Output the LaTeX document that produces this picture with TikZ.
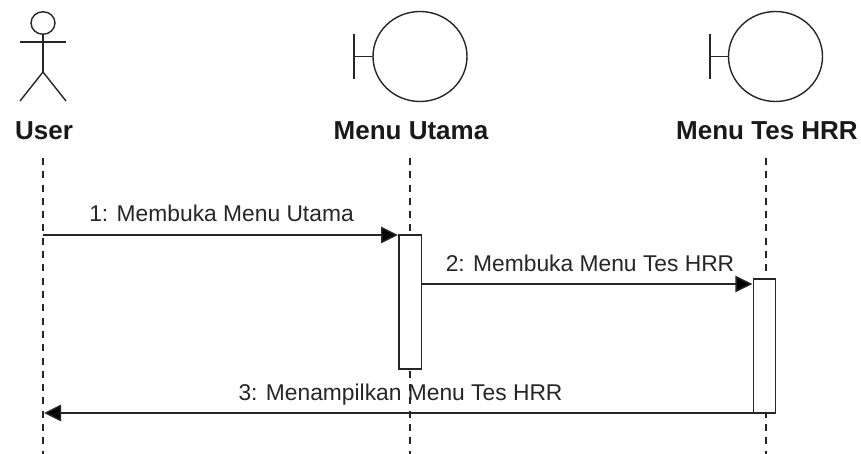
\documentclass[tikz,border=0pt]{standalone}
\usepackage{fontspec}
\setmainfont{Liberation Sans}
\usetikzlibrary{arrows.meta,shapes.geometric}
\tikzset{
  ln/.style={line width=1.4pt,draw=black!85},
  life/.style={line width=1.5pt,draw=black!85,dash pattern=on 7pt off 6.3pt},
  actbox/.style={draw=black!85,line width=1.5pt,fill=white,minimum width=22.4pt,inner sep=0pt,outer sep=0pt,anchor=north west},
  msg/.style={line width=1.5pt,draw=black!85,-{Triangle[length=17pt,width=16.5pt,fill=black]},shorten >=1pt},
  title/.style={font=\bfseries\fontsize{26}{30}\selectfont,inner sep=0pt,text=black!90,anchor=base},
  lbl/.style={font=\fontsize{22.8}{26}\selectfont,inner sep=0pt,text=black!85,anchor=base}
}
\begin{document}
\begin{tikzpicture}[x=1pt,y=-1pt]
\useasboundingbox (0,0) rectangle (861,454);
% actor
\node[ln,draw,ellipse,minimum width=24pt,minimum height=22.5pt,inner sep=0pt,outer sep=0pt] (head) at (43,23) {};
\coordinate (hip) at (43,72);
\coordinate (armL) at (20,42);
\coordinate (armR) at (66,42);
\coordinate (legL) at (20,101);
\coordinate (legR) at (66,101);
\draw[ln] (head.south) -- (hip);
\draw[ln] (armL) -- (armR);
\draw[ln] (legL) -- (hip) -- (legR);
\node[title] (tuser) at (44,140) {User};
\node[title] (tutama) at (411,140) {Menu Utama};
\node[title] (thrr) at (767,140) {Menu Tes HRR};
% boundaries
\node[ln,draw,ellipse,minimum width=94pt,minimum height=90pt,inner sep=0pt,outer sep=0pt] (c1) at (420,56.5) {};
\node[ln,draw,ellipse,minimum width=94pt,minimum height=90pt,inner sep=0pt,outer sep=0pt] (c2) at (775.5,56.5) {};
\coordinate (b1t) at (354,34); \coordinate (b1b) at (354,79); \coordinate (b1m) at (354,56.5);
\coordinate (b2t) at (710,34); \coordinate (b2b) at (710,79); \coordinate (b2m) at (710,56.5);
\draw[ln] (b1t) -- (b1b); \draw[ln] (b1m) -- (c1.west);
\draw[ln] (b2t) -- (b2b); \draw[ln] (b2m) -- (c2.west);
% lifelines
\coordinate (l0t) at (43,158); \coordinate (l0b) at (43,454);
\coordinate (l1t) at (410,158); \coordinate (l1b) at (410,454);
\coordinate (l2t) at (766,158); \coordinate (l2b) at (766,454);
\draw[life] (l0t) -- (l0b);
\draw[life] (l1t) -- (l1b);
\draw[life] (l2t) -- (l2b);
% activations
\node[actbox,minimum height=134pt] (a1) at (399,235) {};
\node[actbox,minimum height=134pt] (a2) at (753.3,279) {};
% messages
\coordinate (m1s) at (43,235);
\coordinate (m2s) at (421,284);
\coordinate (m3e) at (44,413);
\draw[msg] (m1s) -- (m1s -| a1.west);
\draw[msg] (a1.east |- m2s) -- (m2s -| a2.west);
\draw[msg,shorten >=0pt] (a2.south west) -- (m3e);
\node[lbl] (t1) at (221.5,222) {1: Membuka Menu Utama};
\node[lbl] (t2) at (590,271) {2: Membuka Menu Tes HRR};
\node[lbl] (t3) at (400.5,400) {3: Menampilkan Menu Tes HRR};
\end{tikzpicture}
\end{document}
